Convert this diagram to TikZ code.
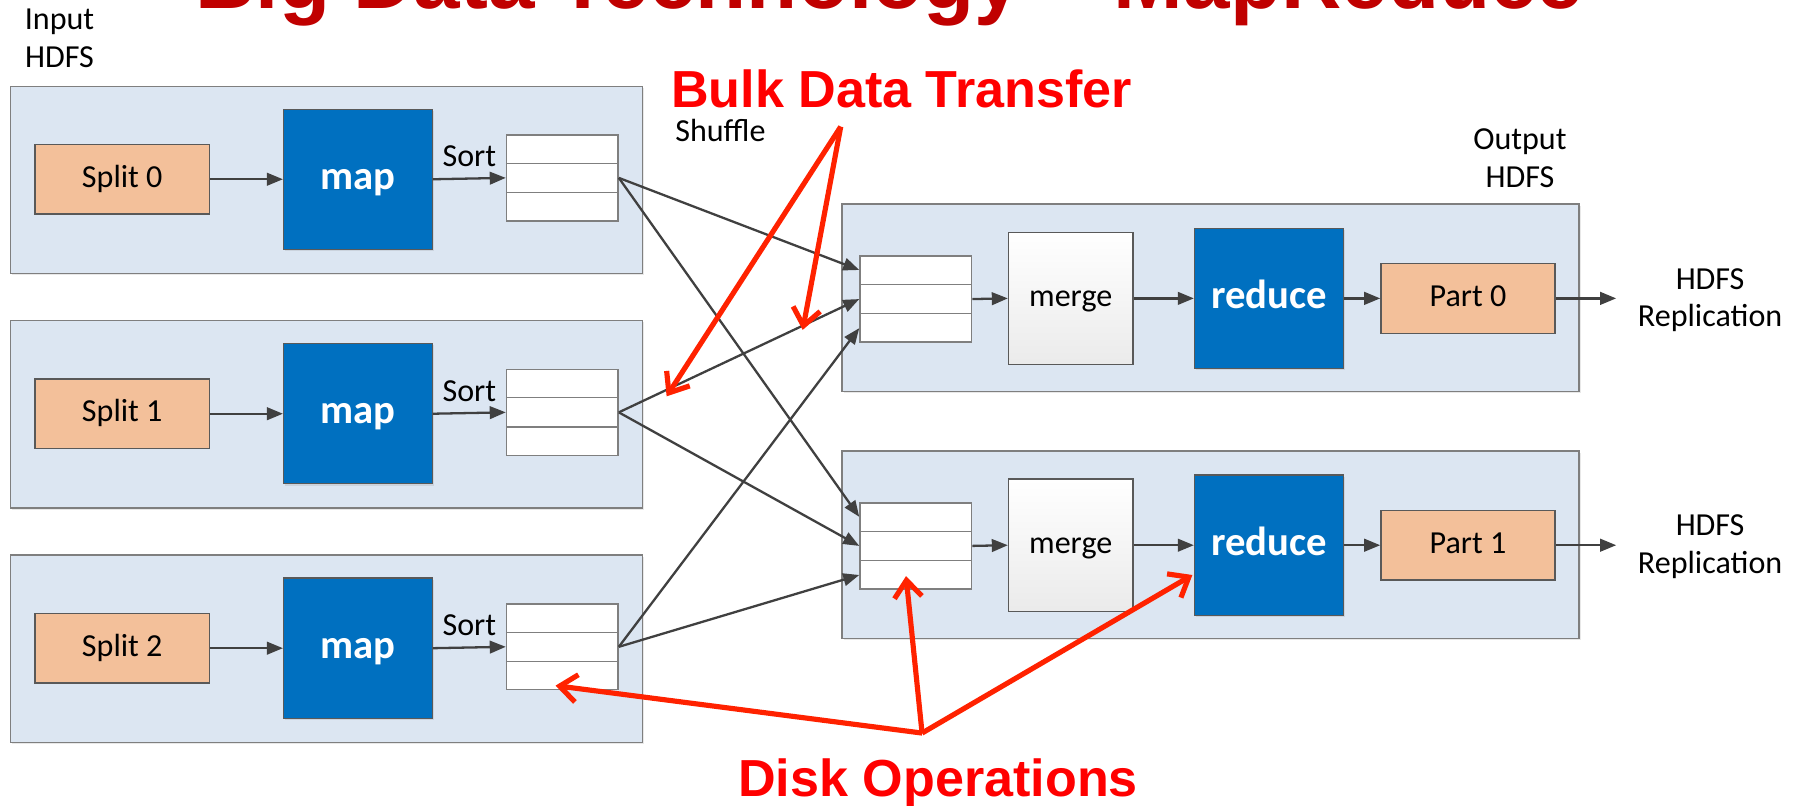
\documentclass[tikz,border=0pt]{standalone}
\usepackage{fontspec}
\setmainfont{Carlito}
\newfontfamily\annotfont{Liberation Sans}
\usetikzlibrary{arrows.meta,calc,shadows}
\definecolor{contfill}{HTML}{DCE6F2}
\definecolor{contline}{HTML}{7F7F7F}
\definecolor{splitfill}{HTML}{F3C09A}
\definecolor{boxline}{HTML}{595959}
\definecolor{mapblue}{HTML}{0070C0}
\definecolor{connline}{HTML}{404040}
\definecolor{titlered}{HTML}{C00000}
\definecolor{annotred}{HTML}{FF2200}
\begin{document}
\begin{tikzpicture}[x=1pt,y=-1pt,
  softshadow/.style={drop shadow={opacity=0.18, shadow xshift=1.5pt, shadow yshift=-1.5pt}},
  container/.style={draw=contline, fill=contfill, line width=1.3pt, minimum width=#1, minimum height=163.5pt, inner sep=0pt, softshadow},
  splitbox/.style={draw=boxline, fill=splitfill, line width=1.3pt, minimum width=152pt, minimum height=61pt, inner sep=0pt, font=\fontsize{28}{33}\selectfont, text height=21pt, text depth=7pt},
  mapbox/.style={draw=boxline, fill=mapblue, line width=1pt, minimum width=130pt, minimum height=122.5pt, inner sep=0pt, text=white, font=\fontsize{35.5}{40}\selectfont\bfseries, text height=26.6pt, text depth=8.9pt, softshadow},
  stackbox/.style={draw=contline, fill=white, line width=1.2pt, minimum width=97.5pt, minimum height=75pt, inner sep=0pt},
  stackline/.style={draw=contline, line width=1.2pt},
  mergebox/.style={draw=boxline, top color=white, bottom color=black!8, line width=1.2pt, minimum width=108.5pt, minimum height=115.4pt, inner sep=0pt, font=\fontsize{28}{33}\selectfont, text height=21pt, text depth=7pt},
  plainlabel/.style={font=\fontsize{28}{33}\selectfont, align=center, inner sep=0pt},
  conn/.style={draw=connline, line width=2pt, -{Triangle[length=14pt,width=11pt]}},
  redarrow/.style={draw=annotred, line width=4.5pt, -{Straight Barb[length=15pt,width=24pt]}},
  redtext/.style={text=red, font=\annotfont\bfseries\fontsize{45.5}{52}\selectfont, inner sep=0pt, anchor=base}
]
\useasboundingbox (0,0) rectangle (1568,703);
\clip (0,0) rectangle (1568,703);
\fill[white] (0,0) rectangle (1568,703);

% title (cut off at the top, as in the reference)
\node[text=titlered, font=\annotfont\bfseries\fontsize{73}{80}\selectfont, inner sep=0pt, anchor=base] (title) at (776.5,7.3) {Big Data Technology – MapReduce};

\node[plainlabel] (inhdfs) at (52,33.2) {Input\\HDFS};
\node[plainlabel, anchor=base] (shuffle) at (629,123.7) {Shuffle};
\node[plainlabel] (outhdfs) at (1327,138) {Output\\HDFS};

% map side
\foreach \k in {0,1,2}{
  \pgfmathsetmacro\T{75.3+204.7*\k}
  \pgfmathsetmacro\C{\T+81.2}
  \node[container=552pt] (cont\k) at (285,\T+81.75) {};
  \node[splitbox] (split\k) at (106.75,\C) {Split \k};
  \node[mapbox] (map\k) at (312.5,\C) {map};
  \node[stackbox] (stack\k) at (490.9,\C-1.2) {};
  \draw[stackline] ($(stack\k.north west)!1/3!(stack\k.south west)$) -- ($(stack\k.north east)!1/3!(stack\k.south east)$);
  \draw[stackline] ($(stack\k.north west)!2/3!(stack\k.south west)$) -- ($(stack\k.north east)!2/3!(stack\k.south east)$);
  \draw[conn] (split\k) -- (map\k);
  \draw[conn] (map\k.east) -- (stack\k.west) node[plainlabel, midway, anchor=base, yshift=10.3pt] {Sort};
}

% reduce side
\foreach \j in {0,1}{
  \pgfmathsetmacro\R{178.3+215.5*\j}
  \pgfmathsetmacro\Q{\R+82.2}
  \node[container=643.6pt] (rcont\j) at (1056.8,\R+81.75) {};
  \node[stackbox] (rstack\j) at (799.5,\Q+0.6) {};
  \draw[stackline] ($(rstack\j.north west)!1/3!(rstack\j.south west)$) -- ($(rstack\j.north east)!1/3!(rstack\j.south east)$);
  \draw[stackline] ($(rstack\j.north west)!2/3!(rstack\j.south west)$) -- ($(rstack\j.north east)!2/3!(rstack\j.south east)$);
  \node[mergebox] (merge\j) at (934.75,\Q) {merge};
  \node[mapbox] (reduce\j) at (1107.8,\Q) {reduce};
  \node[splitbox] (part\j) at (1281.65,\Q) {Part \j};
  \coordinate (out\j) at (1411,\Q);
  \node[plainlabel] (repl\j) at (1493,\Q+1.5) {HDFS\\Replication};
  \draw[conn] (rstack\j.east) -- (merge\j.west);
  \draw[conn] (merge\j.east) -- (reduce\j.west);
  \draw[conn] (reduce\j.east) -- (part\j.west);
  \draw[conn] (part\j.east) -- (out\j);
}

% shuffle connections
\foreach \k in {0,1,2}{
  \foreach \j in {0,1}{
    \pgfmathsetmacro\f{(\k+0.5)/3}
    \draw[conn] (stack\k.east) -- ($(rstack\j.north west)!\f!(rstack\j.south west)$);
  }
}

% annotations
\coordinate (bulkapex) at (734,110.6);
\coordinate (bulktipA) at (700.8,288);
\coordinate (bulktipB) at (582,346);
\draw[redarrow] (bulkapex) -- (bulktipA);
\draw[redarrow] (bulkapex) -- (bulktipB);
\node[redtext] (bulk) at (787,94) {Bulk Data Transfer};

\coordinate (diskapex) at (805,640);
\coordinate (disktipA) at (485,598.6);
\coordinate (disktipB) at (791,503);
\coordinate (disktipC) at (1041,502);
\draw[redarrow] (diskapex) -- (disktipA);
\draw[redarrow] (diskapex) -- (disktipB);
\draw[redarrow] (diskapex) -- (disktipC);
\node[redtext] (disk) at (819,695.5) {Disk Operations};
\end{tikzpicture}
\end{document}
